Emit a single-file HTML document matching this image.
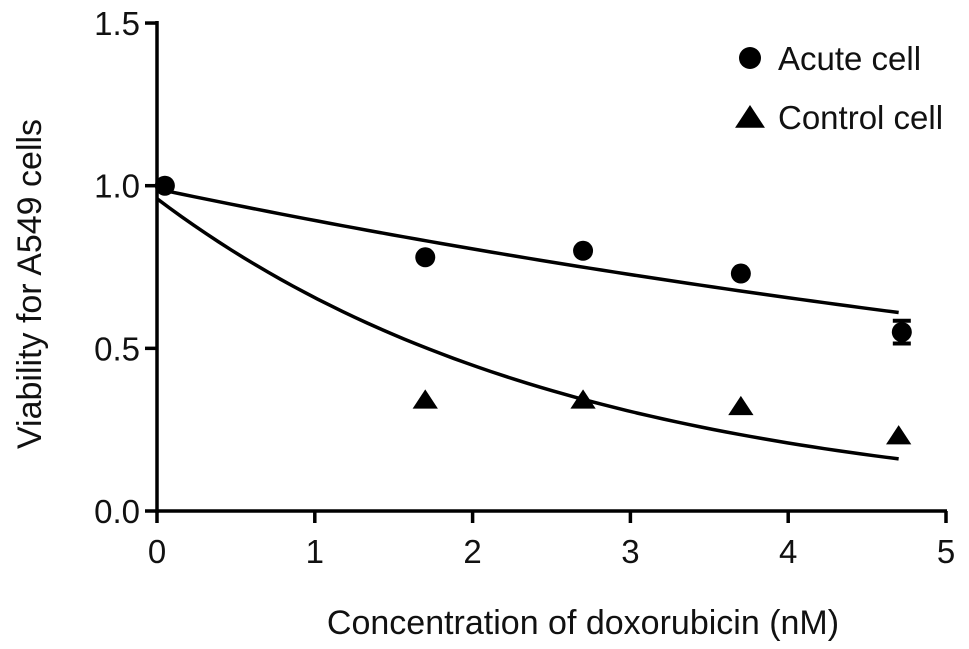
<!DOCTYPE html>
<html><head><meta charset="utf-8"><style>body{margin:0;background:#fff}svg{display:block}text{font-family:"Liberation Sans",sans-serif;fill:#111}</style></head>
<body>
<svg id="chart" width="969" height="649"></svg>
<script>
const xTicks=[0,1,2,3,4,5];
const yTicks=[0.0,0.5,1.0,1.5];
const yTickLabels=["0.0","0.5","1.0","1.5"];
const acuteX=[0.05,1.7,2.7,3.7,4.72];
const acuteY=[1.0,0.78,0.80,0.73,0.55];
const acuteErr=[0,0,0,0,0.035];
const controlX=[1.7,2.7,3.7,4.7];
const controlY=[0.34,0.34,0.32,0.23];
const acuteFit=[0.99,0.103];
const controlFit=[0.96,0.381];
const NS='http://www.w3.org/2000/svg';
const svg=document.getElementById('chart');
const X=v=>157+v*157.8, Y=v=>511-v*325.3;
function mk(t,a,p){const e=document.createElementNS(NS,t);for(const k in a)e.setAttribute(k,a[k]);(p||svg).appendChild(e);return e;}
let e;
e=mk('line',{x1:157,y1:511,x2:947,y2:511,stroke:'#000','stroke-width':3.5});


e=mk('line',{x1:157,y1:21,x2:157,y2:513,stroke:'#000','stroke-width':3.5});


xTicks.forEach(v=>{mk('line',{x1:X(v),y1:511,x2:X(v),y2:523,stroke:'#000','stroke-width':3.5});
e=mk('text',{x:X(v),y:563,'text-anchor':'middle','font-size':33});e.textContent=v;

});
yTicks.forEach((v,i)=>{mk('line',{x1:145,y1:Y(v),x2:157,y2:Y(v),stroke:'#000','stroke-width':3.5});
e=mk('text',{x:140,y:Y(v)+12,'text-anchor':'end','font-size':33});e.textContent=yTickLabels[i];

});
e=mk('text',{x:583,y:634,'text-anchor':'middle','font-size':34});e.textContent='Concentration of doxorubicin (nM)';


e=mk('text',{x:0,y:0,'text-anchor':'middle','font-size':34,transform:'translate(41,284) rotate(-90)'});e.textContent='Viability for A549 cells';


function curve(f,name){let d='';for(let i=0;i<=60;i++){const x=i*4.7/60;d+=(i?'L':'M')+X(x)+','+Y(f[0]*Math.exp(-f[1]*x));}
const p=mk('path',{d:d,fill:'none',stroke:'#000','stroke-width':3.5});

}
curve(acuteFit,'acute-fit-line');curve(controlFit,'control-fit-line');
acuteX.forEach((x,i)=>{if(acuteErr[i]){mk('line',{x1:X(x),y1:Y(acuteY[i]-acuteErr[i]),x2:X(x),y2:Y(acuteY[i]+acuteErr[i]),stroke:'#000','stroke-width':3});
[acuteY[i]-acuteErr[i],acuteY[i]+acuteErr[i]].forEach(y=>mk('line',{x1:X(x)-9,y1:Y(y),x2:X(x)+9,y2:Y(y),stroke:'#000','stroke-width':4}));}
const c=mk('circle',{cx:X(x),cy:Y(acuteY[i]),r:10,fill:'#000'});

});
function tri(cx,cy,s){return `${cx},${cy-s} ${cx-s*1.15},${cy+s*0.75} ${cx+s*1.15},${cy+s*0.75}`;}
controlX.forEach((x,i)=>{const t=mk('polygon',{points:tri(X(x),Y(controlY[i]),11),fill:'#000'});

});
const g1=mk('g',{});
mk('circle',{cx:750,cy:58,r:11,fill:'#000'},g1);
e=mk('text',{x:778,y:70,'font-size':33},g1);e.textContent='Acute cell';
const g2=mk('g',{});
mk('polygon',{points:tri(750,118,13),fill:'#000'},g2);
e=mk('text',{x:778,y:129,'font-size':33},g2);e.textContent='Control cell';
</script>
</body></html>
